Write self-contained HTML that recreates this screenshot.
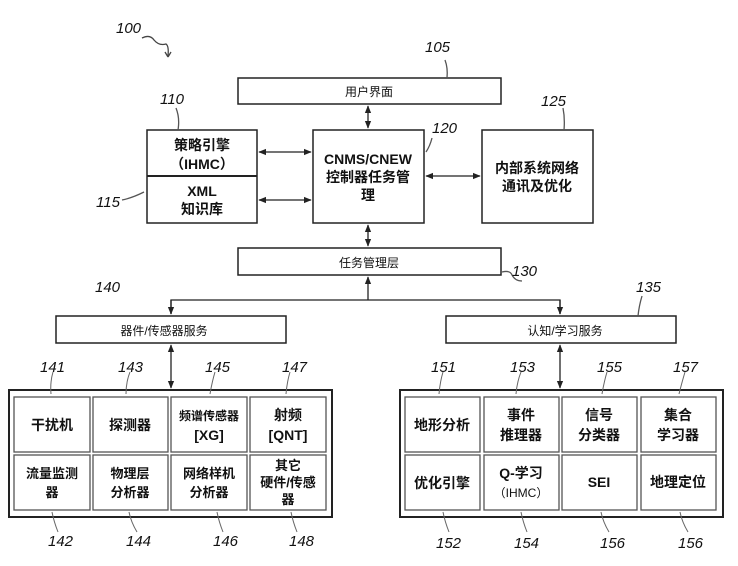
<!DOCTYPE html>
<html><head><meta charset="utf-8"><style>
body{margin:0;background:#fff}
svg{display:block}
text{font-family:"Liberation Sans","Noto Sans CJK SC",sans-serif;fill:#111}
.b{font-weight:bold}
.n{font-style:italic;font-size:15px;fill:#333}
</style></head><body>
<svg width="738" height="566" viewBox="0 0 738 566" xmlns="http://www.w3.org/2000/svg">
<defs>
<marker id="a" viewBox="0 0 10 10" refX="9" refY="5" markerWidth="6" markerHeight="6" orient="auto-start-reverse"><path d="M0,1 L10,5 L0,9 z" fill="#222"/></marker>
</defs>
<g fill="#fff" stroke="#222" stroke-width="1.5">
<rect x="238" y="78" width="263" height="26"/>
<rect x="147" y="130" width="110" height="93"/>
<line x1="147" y1="176" x2="257" y2="176" stroke-width="2"/>
<rect x="313" y="130" width="111" height="93"/>
<rect x="482" y="130" width="111" height="93"/>
<rect x="238" y="248" width="263" height="27"/>
<rect x="56" y="316" width="230" height="27"/>
<rect x="446" y="316" width="230" height="27"/>
<rect x="9" y="390" width="323" height="127" stroke-width="2"/>
<rect x="400" y="390" width="323" height="127" stroke-width="2"/>
</g>
<g fill="#fff" stroke="#555" stroke-width="1.3">
<rect x="14" y="397" width="76" height="55"/><rect x="93" y="397" width="75" height="55"/><rect x="171" y="397" width="76" height="55"/><rect x="250" y="397" width="76" height="55"/>
<rect x="14" y="455" width="76" height="55"/><rect x="93" y="455" width="75" height="55"/><rect x="171" y="455" width="76" height="55"/><rect x="250" y="455" width="76" height="55"/>
<rect x="405" y="397" width="75" height="55"/><rect x="484" y="397" width="75" height="55"/><rect x="562" y="397" width="75" height="55"/><rect x="641" y="397" width="75" height="55"/>
<rect x="405" y="455" width="75" height="55"/><rect x="484" y="455" width="75" height="55"/><rect x="562" y="455" width="75" height="55"/><rect x="641" y="455" width="75" height="55"/>
</g>
<g stroke="#222" stroke-width="1.3" fill="none">
<line x1="368" y1="106" x2="368" y2="128" marker-start="url(#a)" marker-end="url(#a)"/>
<line x1="368" y1="225" x2="368" y2="246" marker-start="url(#a)" marker-end="url(#a)"/>
<line x1="259" y1="152" x2="311" y2="152" marker-start="url(#a)" marker-end="url(#a)"/>
<line x1="259" y1="200" x2="311" y2="200" marker-start="url(#a)" marker-end="url(#a)"/>
<line x1="426" y1="176" x2="480" y2="176" marker-start="url(#a)" marker-end="url(#a)"/>
<line x1="368" y1="277" x2="368" y2="300" marker-start="url(#a)"/>
<polyline points="171,314 171,300 560,300 560,314"/>
<line x1="171" y1="300" x2="171" y2="314" marker-end="url(#a)"/>
<line x1="560" y1="300" x2="560" y2="314" marker-end="url(#a)"/>
<line x1="171" y1="345" x2="171" y2="388" marker-start="url(#a)" marker-end="url(#a)"/>
<line x1="560" y1="345" x2="560" y2="388" marker-start="url(#a)" marker-end="url(#a)"/>
<path d="M142,38 q8,-4 12,2 q5,6 12,4 q3,2 2,12" stroke="#444"/>
<path d="M168,57 l-3,-5 M168,57 l3,-5" stroke="#444"/>
<path d="M445,60 q3,8 2,18" stroke="#555"/>
<path d="M176,108 q4,10 2,22" stroke="#555"/>
<path d="M563,108 q2,10 1,22" stroke="#555"/>
<path d="M432,138 q-2,8 -6,14" stroke="#555"/>
<path d="M122,200 q10,-2 22,-8" stroke="#555"/>
<path d="M502,272 q8,-2 10,3 q3,6 10,6" stroke="#555"/>
<path d="M642,296 q-3,10 -4,20" stroke="#555"/>
</g>
<g stroke="#666" stroke-width="1" fill="none">
<path d="M53,372 q-3,10 -2,22"/><path d="M130,372 q-4,10 -4,22"/><path d="M215,372 q-3,10 -5,22"/><path d="M290,372 q-3,10 -4,22"/>
<path d="M52,512 q2,10 6,20"/><path d="M129,512 q2,10 8,20"/><path d="M217,512 q2,10 6,20"/><path d="M291,512 q2,10 6,20"/>
<path d="M443,372 q-3,10 -4,22"/><path d="M521,372 q-4,10 -5,22"/><path d="M607,372 q-3,10 -5,22"/><path d="M685,372 q-3,10 -6,22"/>
<path d="M443,512 q2,10 6,20"/><path d="M521,512 q2,10 6,20"/><path d="M601,512 q2,10 8,20"/><path d="M680,512 q2,10 8,20"/>
</g>
<g class="n">
<text x="116" y="33">100</text><text x="425" y="52">105</text><text x="160" y="104">110</text><text x="541" y="106">125</text>
<text x="432" y="133">120</text><text x="96" y="207">115</text><text x="512" y="276">130</text>
<text x="95" y="292">140</text><text x="636" y="292">135</text>
<text x="40" y="372">141</text><text x="118" y="372">143</text><text x="205" y="372">145</text><text x="282" y="372">147</text>
<text x="48" y="546">142</text><text x="126" y="546">144</text><text x="213" y="546">146</text><text x="289" y="546">148</text>
<text x="431" y="372">151</text><text x="510" y="372">153</text><text x="597" y="372">155</text><text x="673" y="372">157</text>
<text x="436" y="548">152</text><text x="514" y="548">154</text><text x="600" y="548">156</text><text x="678" y="548">156</text>
</g>
<g font-size="12" text-anchor="middle">
<text x="369" y="96">用户界面</text>
<text x="369" y="267">任务管理层</text>
<text x="164" y="335">器件/传感器服务</text>
<text x="565" y="335">认知/学习服务</text>
</g>
<g font-size="14" text-anchor="middle" class="b">
<text x="202" y="150">策略引擎</text>
<text x="202" y="169">（IHMC）</text>
<text x="202" y="196">XML</text>
<text x="202" y="214">知识库</text>
<text x="368" y="164">CNMS/CNEW</text>
<text x="368" y="182">控制器任务管</text>
<text x="368" y="200">理</text>
<text x="537" y="173">内部系统网络</text>
<text x="537" y="191">通讯及优化</text>
</g>
<g font-size="14" text-anchor="middle" class="b">
<text x="52" y="430">干扰机</text>
<text x="130" y="430">探测器</text>
<text x="209" y="420" font-size="12">频谱传感器</text>
<text x="209" y="440">[XG]</text>
<text x="288" y="420">射频</text>
<text x="288" y="440">[QNT]</text>
<text x="52" y="478" font-size="13">流量监测</text>
<text x="52" y="497" font-size="13">器</text>
<text x="130" y="478" font-size="13">物理层</text>
<text x="130" y="497" font-size="13">分析器</text>
<text x="209" y="478" font-size="13">网络样机</text>
<text x="209" y="497" font-size="13">分析器</text>
<text x="288" y="470" font-size="13">其它</text>
<text x="288" y="487" font-size="13">硬件/传感</text>
<text x="288" y="504" font-size="13">器</text>
<text x="442" y="430">地形分析</text>
<text x="521" y="420">事件</text>
<text x="521" y="440">推理器</text>
<text x="599" y="420">信号</text>
<text x="599" y="440">分类器</text>
<text x="678" y="420">集合</text>
<text x="678" y="440">学习器</text>
<text x="442" y="488">优化引擎</text>
<text x="521" y="478">Q-学习</text>
<text x="521" y="497" font-size="12" font-weight="normal">（IHMC）</text>
<text x="599" y="487">SEI</text>
<text x="678" y="487">地理定位</text>
</g>
</svg>
</body></html>
